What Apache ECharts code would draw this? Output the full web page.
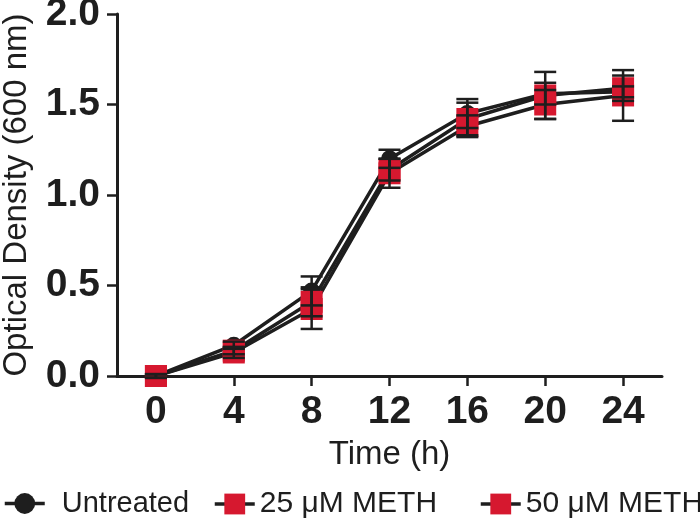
<!DOCTYPE html>
<html>
<head>
<meta charset="utf-8">
<script src="https://cdn.jsdelivr.net/npm/echarts@6/dist/echarts.min.js"></script>
<style>html,body{margin:0;padding:0;background:#fff;}#c{width:700px;height:520px;}</style>
</head>
<body>
<div id="c"></div>
<script>
const times = [0, 4, 8, 12, 16, 20, 24];
const xTicks = [0, 4, 8, 12, 16, 20, 24];
const seriesNames = ['Untreated', '25 \u03bcM METH', '50 \u03bcM METH'];
const untreated = [0, 0.17, 0.47, 1.20, 1.45, 1.56, 1.57];
const untreatedErr = [0.01, 0.02, 0.08, 0.05, 0.08, 0.06, 0.03];
const meth25 = [0, 0.14, 0.41, 1.14, 1.42, 1.55, 1.59];
const meth25Err = [0.01, 0.02, 0.08, 0.06, 0.09, 0.13, 0.07];
const meth50 = [0, 0.13, 0.37, 1.12, 1.38, 1.50, 1.55];
const meth50Err = [0.01, 0.03, 0.11, 0.08, 0.06, 0.08, 0.14];

const FONT = "'Liberation Sans', Arial, sans-serif";
const INK = '#1e1e1e';
const RED = '#d6182f';

function pairs(vals) { return times.map((t, i) => [t, vals[i]]); }
function errData(vals, errs) { return times.map((t, i) => [t, vals[i] - errs[i], vals[i] + errs[i]]); }

function errSeries(vals, errs) {
  return {
    type: 'custom',
    z: 5,
    silent: true,
    data: errData(vals, errs),
    renderItem: function (params, api) {
      const x = api.value(0);
      const lo = api.coord([x, api.value(1)]);
      const hi = api.coord([x, api.value(2)]);
      const hw = 11;
      const st = { stroke: INK, lineWidth: 2.5 };
      return {
        type: 'group',
        children: [
          { type: 'line', shape: { x1: lo[0], y1: lo[1], x2: hi[0], y2: hi[1] }, style: st },
          { type: 'line', shape: { x1: lo[0] - hw, y1: lo[1], x2: lo[0] + hw, y2: lo[1] }, style: st },
          { type: 'line', shape: { x1: hi[0] - hw, y1: hi[1], x2: hi[0] + hw, y2: hi[1] }, style: st }
        ]
      };
    }
  };
}

const chart = echarts.init(document.getElementById('c'), null, { renderer: 'canvas' });
const legendCommon = {
  top: 484, itemWidth: 40, itemHeight: 26,
  textStyle: { fontFamily: FONT, fontSize: 29, color: INK },
  lineStyle: { width: 3.5, color: INK }
};
chart.setOption({
  animation: false,
  backgroundColor: '#fff',
  grid: { left: 117, right: 38, top: 14, bottom: 144, containLabel: false, outerBoundsMode: 'none' },
  legend: [
    Object.assign({}, legendCommon, { left: -2, data: [seriesNames[0]], textStyle: Object.assign({}, legendCommon.textStyle, { padding: [0, 0, 0, 12] }) }),
    Object.assign({}, legendCommon, { left: 208, data: [seriesNames[1]], textStyle: Object.assign({}, legendCommon.textStyle, { fontSize: 30 }) }),
    Object.assign({}, legendCommon, { left: 474, data: [seriesNames[2]], textStyle: Object.assign({}, legendCommon.textStyle, { fontSize: 30 }) })
  ],
  xAxis: {
    type: 'value', min: -2, max: 26,
    name: 'Time (h)', nameLocation: 'middle', nameGap: 62,
    nameTextStyle: { fontFamily: FONT, fontSize: 33, color: INK },
    axisLine: { show: true, onZero: false, lineStyle: { color: INK, width: 3 } },
    axisTick: { show: true, length: 10, lineStyle: { color: INK, width: 2.5 }, customValues: xTicks },
    axisLabel: { margin: 17, fontFamily: FONT, fontSize: 39, fontWeight: 'bold', color: INK, customValues: xTicks },
    splitLine: { show: false }
  },
  yAxis: {
    type: 'value', min: 0, max: 2, interval: 0.5,
    name: 'Optical Density (600 nm)', nameLocation: 'middle', nameGap: 84,
    nameTextStyle: { fontFamily: FONT, fontSize: 33, color: INK },
    axisLine: { show: true, onZero: false, lineStyle: { color: INK, width: 3 } },
    axisTick: { show: true, length: 10, lineStyle: { color: INK, width: 2.5 } },
    axisLabel: { margin: 17, fontFamily: FONT, fontSize: 39, fontWeight: 'bold', color: INK, formatter: v => v.toFixed(1) },
    splitLine: { show: false }
  },
  series: [
    { name: seriesNames[0], type: 'line', data: pairs(untreated), z: 2,
      symbol: 'circle', symbolSize: 17, lineStyle: { color: INK, width: 3.5 },
      itemStyle: { color: INK } },
    { name: seriesNames[1], type: 'line', data: pairs(meth25), z: 3,
      symbol: 'rect', symbolSize: 22, lineStyle: { color: INK, width: 3.5 },
      itemStyle: { color: RED } },
    { name: seriesNames[2], type: 'line', data: pairs(meth50), z: 3,
      symbol: 'rect', symbolSize: 22, lineStyle: { color: INK, width: 3.5 },
      itemStyle: { color: RED } },
    errSeries(untreated, untreatedErr),
    errSeries(meth25, meth25Err),
    errSeries(meth50, meth50Err)
  ]
});
</script>
</body>
</html>
